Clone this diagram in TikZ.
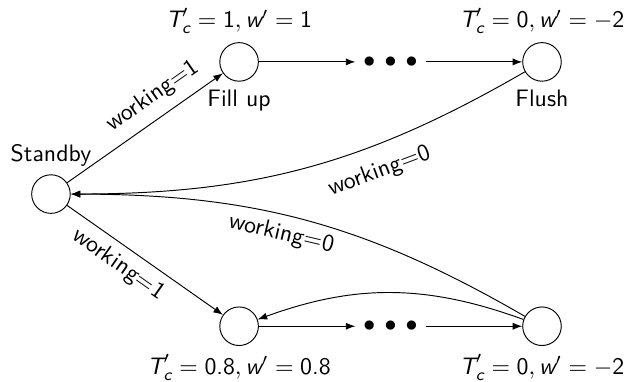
\documentclass[tikz,border=0pt]{standalone}
\usepackage{amsmath}
\usetikzlibrary{arrows.meta,positioning}

\begin{document}
\begin{tikzpicture}[
  on grid,
  font=\sffamily,
  state/.style={draw, circle, minimum size=16.2pt, inner sep=0pt},
  dots/.style={inner sep=3.2pt},
  arrow/.style={-{Latex[length=4pt,width=3pt]}}
]
\useasboundingbox (0,0) rectangle (265.4pt,-160pt);
% upper branch
\node[state, label=above:Standby] (standby) at (21.4pt,-81.5pt) {};
\node[state, above right=55.5pt and 79pt of standby,
      label=above:{$\textit{T}'_{\textit{c}}=\text{1},\textit{w}'=\text{1}$},
      label=below:Fill up] (fillup) {};
\node[dots, right=63.6pt of fillup] (dtop) {$\bullet\,\bullet\,\bullet$};
\node[state, right=127.2pt of fillup,
      label=above:{$\textit{T}'_{\textit{c}}=\text{0},\textit{w}'=-\text{2}$},
      label=below:Flush] (flush) {};
% lower branch
\node[state, below right=55.5pt and 79pt of standby,
      label=below:{$\textit{T}'_{\textit{c}}=\text{0.8},\textit{w}'=\text{0.8}$}] (lowfill) {};
\node[dots, right=63.6pt of lowfill] (ddown) {$\bullet\,\bullet\,\bullet$};
\node[state, right=127.2pt of lowfill,
      label=below:{$\textit{T}'_{\textit{c}}=\text{0},\textit{w}'=-\text{2}$}] (lowflush) {};

\draw[arrow] (standby) -- node[above=1pt, sloped, pos=0.63] {working=1} (fillup);
\draw[arrow] (fillup) -- (dtop);
\draw[arrow] (dtop) -- (flush);
\draw[arrow] (flush) to[bend left=15] node[below=3pt, sloped, pos=0.35] {working=0} (standby);
\draw[arrow] (standby) -- node[below, sloped, pos=0.4] {working=1} (lowfill);
\draw[arrow] (lowfill) -- (ddown);
\draw[arrow] (ddown) -- (lowflush);
\draw[arrow] (lowflush) to[bend right=20] (lowfill);
\draw[arrow] (lowflush) to[bend right=15] node[below, sloped, pos=0.55] {working=0} (standby);
\end{tikzpicture}
\end{document}
